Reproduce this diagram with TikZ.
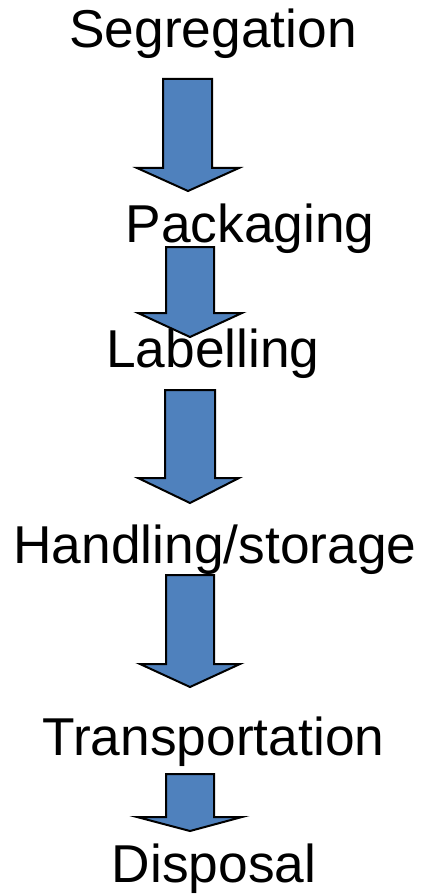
\documentclass[tikz,border=0pt]{standalone}
\usepackage{fontspec}
\setmainfont{Liberation Sans}
\definecolor{arrowblue}{HTML}{4F81BD}
\begin{document}
\begin{tikzpicture}[x=1pt,y=-1pt,
  blockarrow/.style={draw=black,line width=2pt,fill=arrowblue,line join=miter},
  steplabel/.style={anchor=base,inner sep=0pt,font=\fontsize{53.3}{60}\selectfont}]
\useasboundingbox (0,0) rectangle (421,896);
\fill[white] (0,0) rectangle (421,896);
% block arrows
\draw[blockarrow] (163,79) -- (212,79) -- (212,168) -- (239,168) -- (188,191) -- (137,168) -- (163,168) -- cycle;
\draw[blockarrow] (166,247) -- (214,247) -- (214,313) -- (242,313) -- (190,337) -- (138,313) -- (166,313) -- cycle;
\draw[blockarrow] (165,390) -- (215,390) -- (215,478) -- (239,478) -- (190,503) -- (138,478) -- (165,478) -- cycle;
\draw[blockarrow] (166,575) -- (214,575) -- (214,664) -- (240,664) -- (190,687) -- (140,664) -- (166,664) -- cycle;
\draw[blockarrow] (166,774) -- (214,774) -- (214,817) -- (242,817) -- (190,831) -- (137,817) -- (166,817) -- cycle;
% labels
\node[steplabel] (seg) at (213,48) {Segregation};
\node[steplabel] (pack) at (250,242) {Packaging};
\node[steplabel] (lab) at (213,367) {Labelling};
\node[steplabel] (hand) at (215,563) {Handling/storage};
\node[steplabel] (trans) at (213.5,755) {Transportation};
\node[steplabel] (disp) at (214,882) {Disposal};
\end{tikzpicture}
\end{document}
